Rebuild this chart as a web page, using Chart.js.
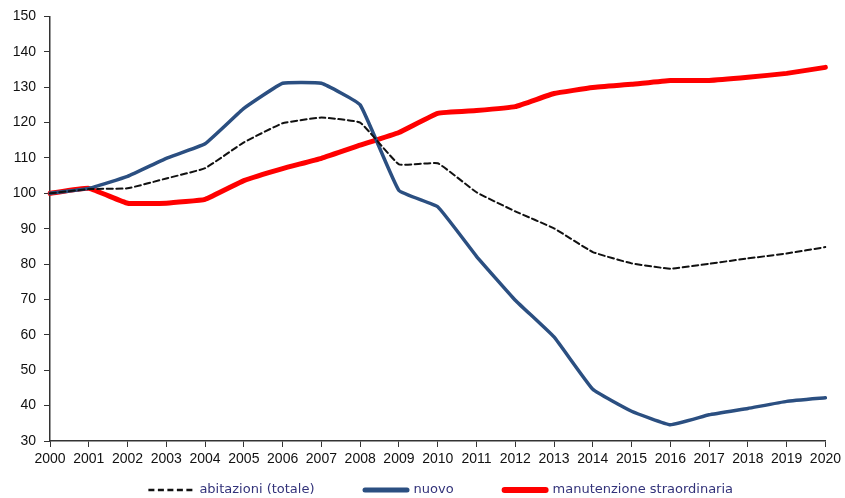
<!DOCTYPE html>
<html>
<head>
<meta charset="utf-8">
<title>Investimenti in abitazioni</title>
<script src="https://cdn.jsdelivr.net/npm/chart.js@4.4.1/dist/chart.umd.min.js"></script>
<style>
  html, body { margin: 0; padding: 0; background: #fff; }
</style>
</head>
<body>
<canvas id="lineChart" width="845" height="498"></canvas>
<script>
const years = ['2000', '2001', '2002', '2003', '2004', '2005', '2006', '2007', '2008', '2009', '2010',
               '2011', '2012', '2013', '2014', '2015', '2016', '2017', '2018', '2019', '2020'];

// indici 2000 = 100
const abitazioniTotale = [100, 101.2, 101.4, 104.2, 107.1, 114.4, 119.8, 121.4, 120.0, 108.2, 108.5,
                          100.3, 94.9, 90.1, 83.4, 80.2, 78.7, 80.1, 81.6, 83.0, 84.8];
const nuovo = [100, 101.4, 104.8, 109.9, 114.0, 124.0, 131.1, 131.1, 125.0, 100.8, 96.2,
               82.2, 69.8, 59.4, 44.6, 38.4, 34.6, 37.4, 39.2, 41.2, 42.2];
const manutenzione = [100, 101.4, 97.2, 97.2, 98.3, 103.6, 107.0, 109.9, 113.6, 117.2, 122.6,
                      123.4, 124.5, 128.2, 129.9, 130.8, 131.9, 131.9, 132.8, 133.9, 135.6];

const yMin = 30, yMax = 150, yStep = 10;

const tickFont = { family: '"Liberation Sans", Arial, sans-serif', size: 14 };
const axisColor = '#333333';

// legenda disegnata sotto il grafico, con i campioni di linea larghi
const bottomLegend = {
  id: 'bottomLegend',
  afterDraw(chart) {
    const ctx = chart.ctx;
    const area = chart.chartArea;
    const sample = 47, gap = 4, spacing = 48;
    const y = 490;
    ctx.save();
    ctx.font = '13px "DejaVu Sans", Verdana, sans-serif';
    const items = chart.data.datasets.map(ds => ({
      ds: ds,
      w: sample + gap + ctx.measureText(ds.label).width
    }));
    const total = items.reduce((s, it) => s + it.w, 0) + spacing * (items.length - 1);
    let x = (area.left + area.right) / 2 - total / 2 + 3;
    items.forEach(it => {
      const ds = it.ds;
      ctx.beginPath();
      ctx.strokeStyle = ds.borderColor;
      ctx.lineWidth = ds.legendWidth;
      ctx.setLineDash(ds.borderDash || []);
      ctx.lineCap = ds.borderDash ? 'butt' : 'round';
      const inset = ds.borderDash ? 0 : ds.legendWidth / 2;
      ctx.moveTo(x + inset, y);
      ctx.lineTo(x + sample - inset, y);
      ctx.stroke();
      ctx.setLineDash([]);
      ctx.fillStyle = '#33337a';
      ctx.textAlign = 'left';
      ctx.textBaseline = 'middle';
      ctx.fillText(ds.label, x + sample + gap, y);
      x += it.w + spacing;
    });
    ctx.restore();
  }
};

const ctx = document.getElementById('lineChart').getContext('2d');

const chart = new Chart(ctx, {
  type: 'line',
  data: {
    labels: years,
    datasets: [
      {
        label: 'abitazioni (totale)',
        data: abitazioniTotale,
        borderColor: '#111111',
        borderWidth: 2,
        borderDash: [6, 3.5],
        legendWidth: 2.5
      },
      {
        label: 'nuovo',
        data: nuovo,
        borderColor: '#2b4f81',
        borderWidth: 3.5,
        legendWidth: 5
      },
      {
        label: 'manutenzione straordinaria',
        data: manutenzione,
        borderColor: '#ff0000',
        borderWidth: 5,
        legendWidth: 6
      }
    ]
  },
  options: {
    responsive: false,
    animation: false,
    layout: {
      padding: { top: 16, right: 19, bottom: 30, left: 0 }
    },
    elements: {
      point: { radius: 0 },
      line: { tension: 0.1, borderCapStyle: 'round', borderJoinStyle: 'round' }
    },
    plugins: {
      legend: { display: false },
      tooltip: { enabled: false }
    },
    scales: {
      x: {
        offset: false,
        grid: {
          display: true,
          drawOnChartArea: false,
          drawTicks: true,
          tickLength: 6,
          color: axisColor
        },
        border: { display: true, color: axisColor, width: 1.5 },
        ticks: {
          color: '#111111',
          font: tickFont,
          padding: 4,
          maxRotation: 0,
          autoSkip: false
        },
        afterFit(scale) { scale.height = 27; }
      },
      y: {
        min: yMin,
        max: yMax,
        grid: {
          display: true,
          drawOnChartArea: false,
          drawTicks: true,
          tickLength: 6,
          color: axisColor
        },
        border: { display: true, color: axisColor, width: 1.5 },
        ticks: {
          stepSize: yStep,
          color: '#111111',
          font: tickFont,
          padding: 8
        },
        afterFit(scale) { scale.width = 50; }
      }
    }
  },
  plugins: [bottomLegend]
});
</script>
</body>
</html>
